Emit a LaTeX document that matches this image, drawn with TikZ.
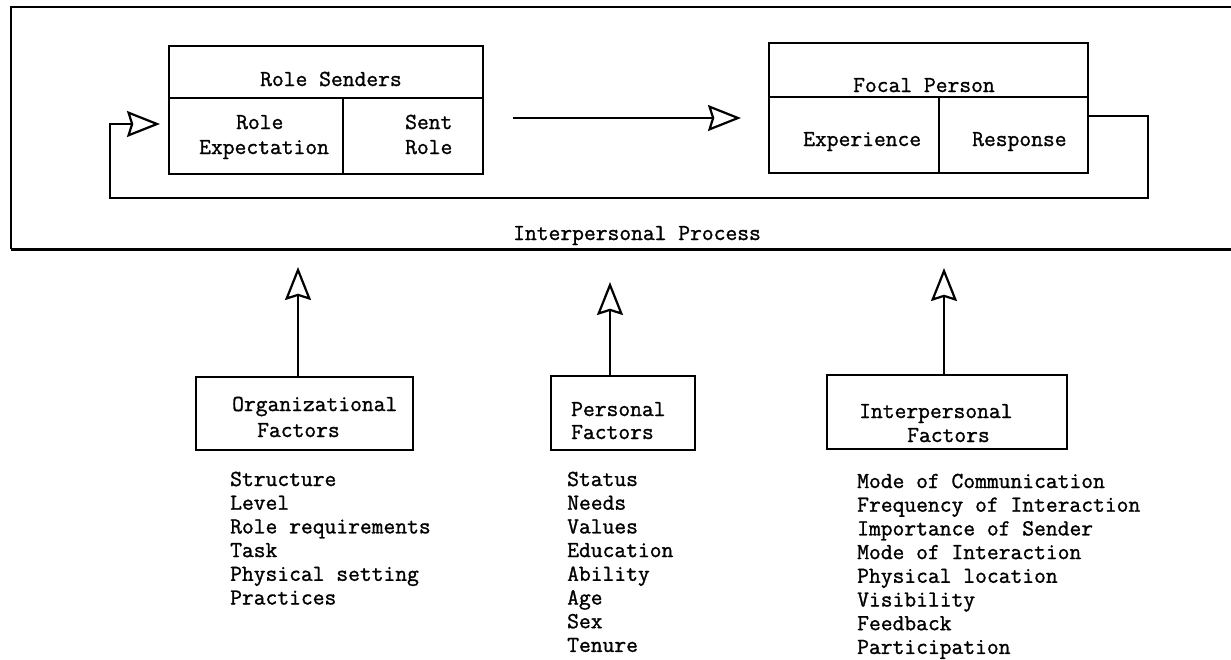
\documentclass[tikz,border=0pt]{standalone}
\usepackage{fontspec}
\newfontfamily\tw{Latin Modern Mono}[FakeBold=1.2]
\usetikzlibrary{arrows.meta}
\tikzset{
  cell/.style={draw, line width=2pt, rectangle, inner sep=0pt, outer sep=0pt},
  txt/.style={anchor=base west, inner sep=0pt, font=\tw\fontsize{22.9}{26}\selectfont},
  arr/.style={line width=2.2pt, -{Stealth[open, length=33pt, width=26pt, inset=4pt, line width=2.2pt]}},
}
\begin{document}
\begin{tikzpicture}[x=1pt, y=-1pt]
\useasboundingbox (0,0) rectangle (1231,659);
% outer frame
\coordinate (ftr) at (1231,7);
\coordinate (ftl) at (11,7);
\coordinate (fbl) at (11,249);
\coordinate (fbr) at (1231,249);
\draw[line width=2pt] (ftr) -- (ftl) -- (fbl);
\draw[line width=3pt] (fbl) -- (fbr);
% role senders
\node[cell, minimum width=314pt, minimum height=52pt] (rs) at (326,72) {};
\node[cell, minimum width=174pt, minimum height=76pt] (re) at (256,136) {};
\node[cell, minimum width=140pt, minimum height=76pt] (sr) at (413,136) {};
% focal person
\node[cell, minimum width=319pt, minimum height=54pt] (fp) at (928.5,70) {};
\node[cell, minimum width=170pt, minimum height=76pt] (ex) at (854,135) {};
\node[cell, minimum width=149pt, minimum height=76pt] (rp) at (1013.5,135) {};
% texts top
\node[txt] (trs) at (260,86) {Role Senders};
\node[txt] (tre1) at (236,129) {Role};
\node[txt] (tre2) at (199,154) {Expectation};
\node[txt] (tsr1) at (405,129) {Sent};
\node[txt] (tsr2) at (405,154) {Role};
\node[txt] (tfp) at (853,92) {Focal Person};
\node[txt] (tex) at (803,146) {Experience};
\node[txt] (trp) at (972,146) {Response};
\node[txt] (tip) at (513,240) {Interpersonal Process};
% middle arrow
\coordinate (ms) at (513,118);
\coordinate (me) at (741,118);
\draw[arr] (ms) -- (me);
% feedback loop
\coordinate (frt) at (1148,116);
\coordinate (frb) at (1148,198);
\coordinate (flb) at (110,198);
\coordinate (flt) at (110,124);
\coordinate (fbtip) at (160,124);
\draw[arr, line width=2pt] ([yshift=19pt]rp.east) -- (frt) -- (frb) -- (flb) -- (flt) -- (fbtip);
% lower boxes
\node[cell, minimum width=217pt, minimum height=73pt] (org) at (304.5,413.5) {};
\node[cell, minimum width=144pt, minimum height=74pt] (pers) at (623,413) {};
\node[cell, minimum width=240pt, minimum height=74pt] (inter) at (947,412) {};
\node[txt] (to1) at (232,411) {Organizational};
\node[txt] (to2) at (257,437) {Factors};
\node[txt] (tp1) at (571,416) {Personal};
\node[txt] (tp2) at (571,439) {Factors};
\node[txt] (ti1) at (859,418) {Interpersonal};
\node[txt] (ti2) at (907,442) {Factors};
% up arrows
\coordinate (oat) at (298,267);
\coordinate (pat) at (610,282);
\coordinate (iat) at (944,268);
\draw[arr] (org.north -| oat) -- (oat);
\draw[arr] (pers.north -| pat) -- (pat);
\draw[arr] (inter.north -| iat) -- (iat);
% lists
\foreach \t [count=\i] in {Structure, Level, Role requirements, Task, Physical setting, Practices}
  \node[txt] (ol\i) at (230, {486+23.7*(\i-1)}) {\t};
\foreach \t [count=\i] in {Status, Needs, Values, Education, Ability, Age, Sex, Tenure}
  \node[txt] (pl\i) at (567, {486+23.7*(\i-1)}) {\t};
\foreach \t [count=\i] in {Mode of Communication, Frequency of Interaction, Importance of Sender, Mode of Interaction, Physical location, Visibility, Feedback, Participation}
  \node[txt] (il\i) at (857, {488+23.7*(\i-1)}) {\t};
\end{tikzpicture}
\end{document}
